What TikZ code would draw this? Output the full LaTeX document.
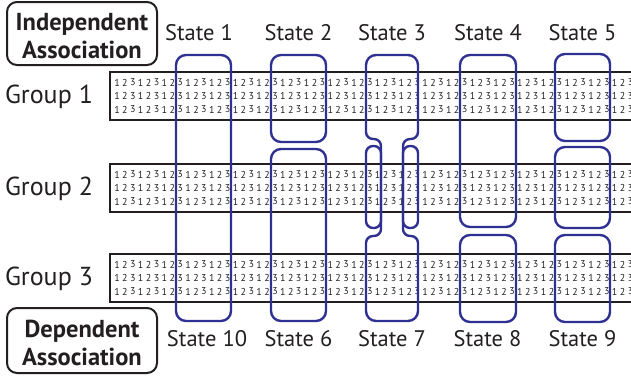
\documentclass[tikz,border=0pt]{standalone}
\usepackage{fontspec}
\setmainfont{PT Sans}
\definecolor{stateblue}{HTML}{2E3192}
\definecolor{ink}{HTML}{231F20}
\begin{document}
\begin{tikzpicture}[x=1pt,y=-1pt,
  groupbox/.style={draw=ink,line width=1.8pt},
  digit/.style={inner sep=0pt,text=ink,font=\fontsize{10}{10}\selectfont},
  statebox/.style={draw=stateblue,line width=2.4pt,rounded corners=10pt},
  neckbox/.style={draw=stateblue,line width=2.4pt},
  label/.style={inner sep=0pt,text=ink,font=\fontsize{22.5}{22.5}\selectfont},
  grouplabel/.style={inner sep=0pt,text=ink,font=\fontsize{26}{26}\selectfont},
  assocframe/.style={draw=ink,line width=2pt,rounded corners=10pt},
  assoc/.style={align=center,inner sep=0pt,font=\fontsize{24.5}{28}\selectfont\bfseries,text=ink}]
\useasboundingbox (0,0) rectangle (631,376);
\clip (0,0) rectangle (631,376);

% three groups, each a strip of repeating 1 2 3 in three rows
\foreach \g/\cy in {1/96,2/188,3/278}{
  \draw[groupbox] (110,\cy-24) rectangle (645,\cy+24);
  \foreach \r in {-13.5,0,13.5}{
    \foreach \i in {0,...,66}{
      \pgfmathtruncatemacro\d{mod(\i,3)+1}
      \node[digit] at (117+7.9*\i,\cy+\r) {\d};
    }
  }
  \node[grouplabel] (group\g) at (49,\cy+1) {Group \g};
}

% column 1: one box across all groups
\draw[statebox] (176,55) rectangle (231,321);
% column 2
\draw[statebox] (271,55) rectangle (326,142);
\draw[statebox] (271,149) rectangle (326,321);
% column 3: top and bottom bulbs joined by a neck, with side boxes in group 2
\draw[neckbox] (366,100) [rounded corners=10pt] -- (366,55) -- (418,55)
  [rounded corners=7pt] -- (418,139) -- (403,139) -- (403,236) -- (418,236)
  [rounded corners=10pt] -- (418,321) -- (366,321)
  [rounded corners=7pt] -- (366,236) -- (381,236) -- (381,139) -- (366,139) -- (366,100);
\draw[statebox,rounded corners=7pt] (366,146) rectangle (381,228);
\draw[statebox,rounded corners=7pt] (403,146) rectangle (418,228);
% column 4
\draw[statebox] (460,55) rectangle (516,227);
\draw[statebox] (460,235) rectangle (516,322);
% column 5
\draw[statebox] (555,54) rectangle (610,141);
\draw[statebox] (555,147) rectangle (610,228);
\draw[statebox] (555,235) rectangle (610,322);

% state labels
\node[label] (s1) at (199,33) {State 1};
\node[label] (s2) at (298.5,33) {State 2};
\node[label] (s3) at (392,33) {State 3};
\node[label] (s4) at (488,33) {State 4};
\node[label] (s5) at (582.5,33) {State 5};
\node[label] (s10) at (207,339) {State 10};
\node[label] (s6) at (298.5,339) {State 6};
\node[label] (s7) at (392,339) {State 7};
\node[label] (s8) at (487.5,339) {State 8};
\node[label] (s9) at (582.5,339) {State 9};

% association boxes
\draw[assocframe] (7,2) rectangle (157,65);
\node[assoc] (indep) at (82,36) {Independent\\Association};
\draw[assocframe] (7,308) rectangle (157,373);
\node[assoc] (dep) at (82,342.5) {Dependent\\Association};
\end{tikzpicture}
\end{document}
